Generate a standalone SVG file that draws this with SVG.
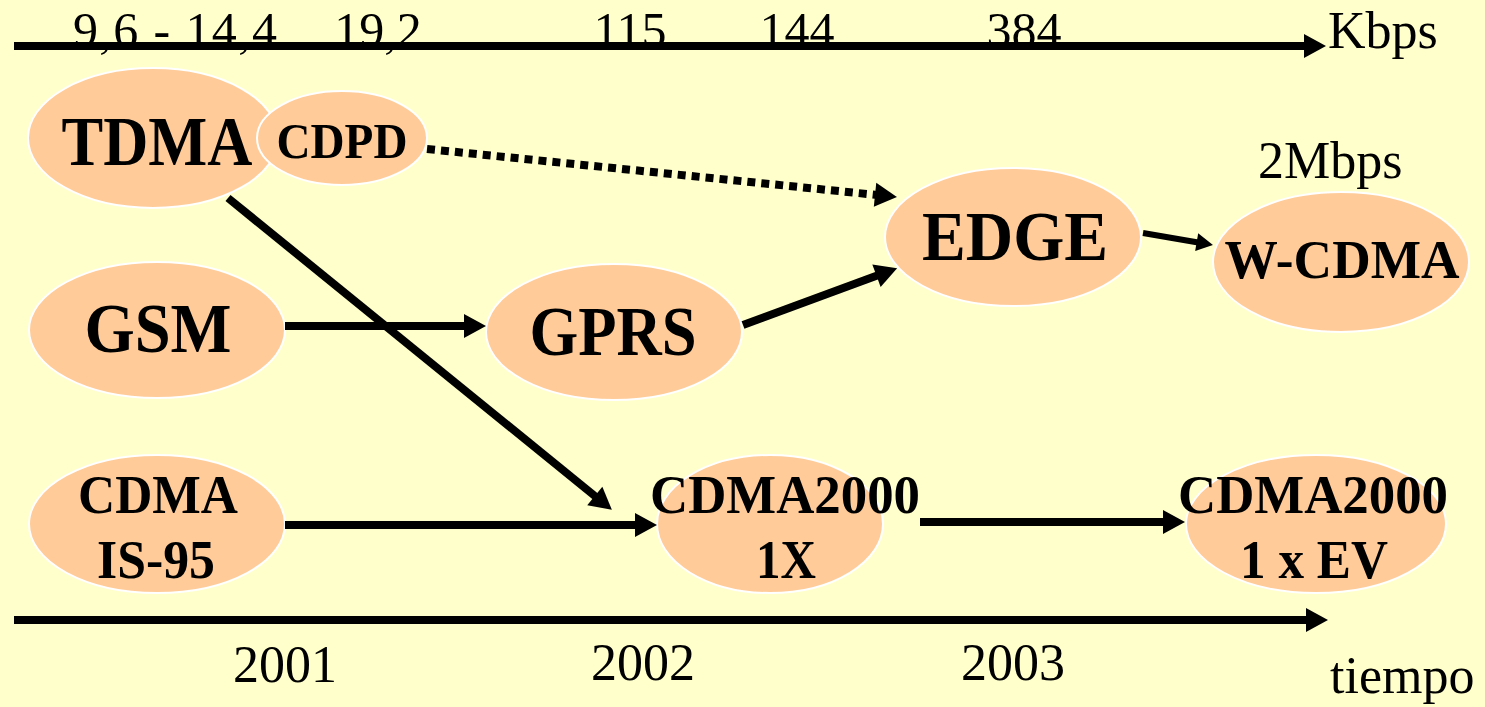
<svg xmlns="http://www.w3.org/2000/svg" width="1485" height="707" viewBox="0 0 1485 707">
<style>
.bg{fill:#FFFFCC}
.node ellipse{fill:#FFCC99;stroke:#FFFFFF;stroke-width:2}
.lbl{font-family:"Liberation Serif","Times New Roman",serif;font-weight:bold;fill:#000;text-anchor:middle}
.txt{font-family:"Liberation Serif","Times New Roman",serif;fill:#000}
.c{text-anchor:middle}
.edge{stroke:#000;fill:none;stroke-width:8;marker-end:url(#ah)}
.thin{stroke-width:6}
.dot{stroke-dasharray:8 6}
</style>
<defs>
<marker id="ah" markerUnits="strokeWidth" markerWidth="2.75" markerHeight="3" refX="1" refY="1.5" orient="auto" overflow="visible">
<path d="M0,0 L2.75,1.5 L0,3 z" fill="#000"/>
</marker>
</defs>
<rect class="bg" x="0" y="0" width="1485" height="707"/>

<g id="axes">
<line class="edge" x1="14" y1="46" x2="1312" y2="46"/>
<line class="edge" x1="14" y1="620" x2="1314" y2="620"/>
<text class="txt c" x="175" y="47" font-size="50" textLength="204">9,6 - 14,4</text>
<text class="txt c" x="378" y="47" font-size="50">19,2</text>
<text class="txt c" x="630" y="47" font-size="50">115</text>
<text class="txt c" x="797" y="47" font-size="50">144</text>
<text class="txt c" x="1024" y="47" font-size="50">384</text>
<text class="txt" x="1328" y="48" font-size="52">Kbps</text>
<text class="txt c" x="285" y="682" font-size="52">2001</text>
<text class="txt c" x="643" y="680" font-size="52">2002</text>
<text class="txt c" x="1013" y="680" font-size="52">2003</text>
<text class="txt" x="1330" y="693" font-size="52">tiempo</text>
<text class="txt" x="1258" y="178" font-size="52">2Mbps</text>
</g>

<g id="n-tdma" class="node">
<ellipse cx="153" cy="138" rx="125" ry="70"/>
<text class="lbl" x="157" y="165" font-size="70" textLength="191" lengthAdjust="spacingAndGlyphs">TDMA</text>
</g>
<g id="n-cdpd" class="node">
<ellipse cx="342" cy="138" rx="85" ry="47"/>
<text class="lbl" x="342" y="158" font-size="50" textLength="131" lengthAdjust="spacingAndGlyphs">CDPD</text>
</g>
<g id="n-gsm" class="node">
<ellipse cx="157" cy="330" rx="128" ry="68"/>
<text class="lbl" x="158" y="352" font-size="70" textLength="147" lengthAdjust="spacingAndGlyphs">GSM</text>
</g>
<g id="n-gprs" class="node">
<ellipse cx="614" cy="332" rx="128" ry="68"/>
<text class="lbl" x="613" y="355" font-size="70" textLength="167" lengthAdjust="spacingAndGlyphs">GPRS</text>
</g>
<g id="n-edge" class="node">
<ellipse cx="1013" cy="237" rx="128" ry="69"/>
<text class="lbl" x="1015" y="260" font-size="70" textLength="186" lengthAdjust="spacingAndGlyphs">EDGE</text>
</g>
<g id="n-wcdma" class="node">
<ellipse cx="1341" cy="262" rx="128" ry="70"/>
<text class="lbl" x="1342" y="278" font-size="54" textLength="235" lengthAdjust="spacingAndGlyphs">W-CDMA</text>
</g>
<g id="n-cdma" class="node">
<ellipse cx="157" cy="524" rx="128" ry="69"/>
<text class="lbl" x="158" y="513" font-size="54" textLength="160" lengthAdjust="spacingAndGlyphs">CDMA</text>
<text class="lbl" x="156" y="578" font-size="54" textLength="118" lengthAdjust="spacingAndGlyphs">IS-95</text>
</g>
<g id="n-1x" class="node">
<ellipse cx="770" cy="524" rx="113" ry="69"/>
<text class="lbl" x="785" y="513" font-size="54" textLength="270" lengthAdjust="spacingAndGlyphs">CDMA2000</text>
<text class="lbl" x="786" y="578" font-size="54" textLength="60" lengthAdjust="spacingAndGlyphs">1X</text>
</g>
<g id="n-ev" class="node">
<ellipse cx="1316" cy="524" rx="130" ry="69"/>
<text class="lbl" x="1313" y="513" font-size="54" textLength="270" lengthAdjust="spacingAndGlyphs">CDMA2000</text>
<text class="lbl" x="1314" y="578" font-size="54" textLength="148" lengthAdjust="spacingAndGlyphs">1 x EV</text>
</g>

<g id="connectors">
<line class="edge dot" x1="427" y1="149" x2="883" y2="195.6"/>
<line class="edge" x1="228" y1="198" x2="601" y2="501"/>
<line class="edge" x1="285" y1="326" x2="472" y2="326"/>
<line class="edge" x1="743" y1="325" x2="884" y2="273"/>
<line class="edge thin" x1="1143" y1="233" x2="1202.6" y2="243.2"/>
<line class="edge" x1="285" y1="525" x2="643" y2="525"/>
<line class="edge" x1="920" y1="522" x2="1171" y2="522"/>
</g>
</svg>
